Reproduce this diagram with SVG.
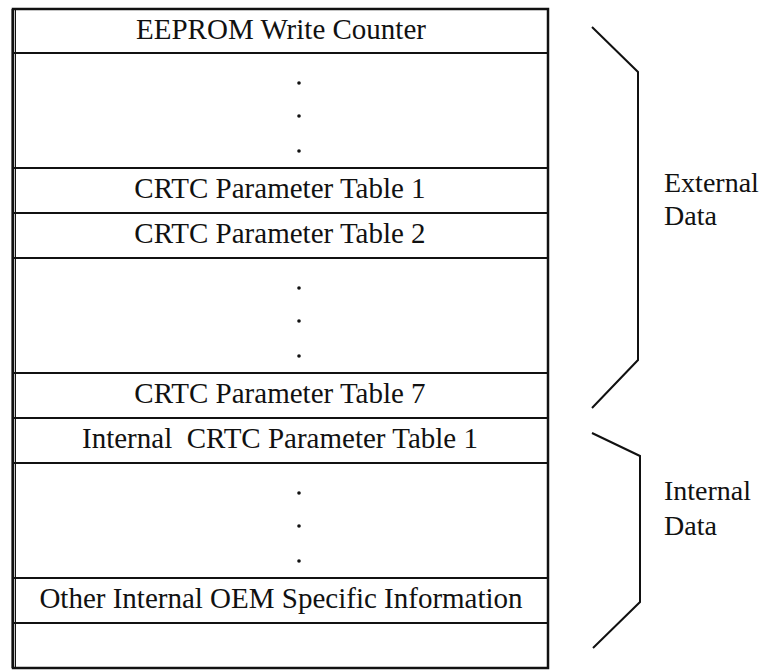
<svg xmlns="http://www.w3.org/2000/svg" width="767" height="670" viewBox="0 0 767 670">
<style>
.t{font-family:"Liberation Serif","Times New Roman","DejaVu Serif",serif;font-size:29px;fill:#111;text-anchor:middle}
.l{font-family:"Liberation Serif","Times New Roman","DejaVu Serif",serif;font-size:28px;fill:#111}
.ln{stroke:#111;stroke-width:1.8;fill:none}
.br{stroke:#111;stroke-width:2;fill:none;stroke-linejoin:miter}
</style>
<rect width="767" height="670" fill="#fff"/>
<g id="table">
<rect x="13" y="9" width="535" height="659" fill="none" stroke="#111" stroke-width="2.5"/>
<line x1="12" y1="9" x2="12" y2="668" stroke="#111" stroke-width="1"/>
<line x1="15.5" y1="9" x2="15.5" y2="668" stroke="#111" stroke-width="1"/>
<line class="ln" x1="13" y1="53" x2="548" y2="53"/>
<line class="ln" x1="13" y1="168" x2="548" y2="168"/>
<line class="ln" x1="13" y1="213" x2="548" y2="213"/>
<line class="ln" x1="13" y1="258" x2="548" y2="258"/>
<line class="ln" x1="13" y1="373" x2="548" y2="373"/>
<line class="ln" x1="13" y1="418" x2="548" y2="418"/>
<line class="ln" x1="13" y1="463" x2="548" y2="463"/>
<line class="ln" x1="13" y1="578" x2="548" y2="578"/>
<line class="ln" x1="13" y1="623" x2="548" y2="623"/>
</g>
<g id="row-eeprom"><text class="t" x="281" y="39">EEPROM Write Counter</text></g>
<g id="row-dots1" fill="#111"><circle cx="299" cy="83" r="1.8"/><circle cx="299" cy="116" r="1.8"/><circle cx="299" cy="151" r="1.8"/></g>
<g id="row-crtc1"><text class="t" x="280" y="198">CRTC Parameter Table 1</text></g>
<g id="row-crtc2"><text class="t" x="280" y="243">CRTC Parameter Table 2</text></g>
<g id="row-dots2" fill="#111"><circle cx="299" cy="288" r="1.8"/><circle cx="299" cy="321" r="1.8"/><circle cx="299" cy="356" r="1.8"/></g>
<g id="row-crtc7"><text class="t" x="280" y="403">CRTC Parameter Table 7</text></g>
<g id="row-internal1"><text class="t" x="280" y="448" xml:space="preserve">Internal  CRTC Parameter Table 1</text></g>
<g id="row-dots3" fill="#111"><circle cx="299" cy="493" r="1.8"/><circle cx="299" cy="526" r="1.8"/><circle cx="299" cy="561" r="1.8"/></g>
<g id="row-oem"><text class="t" x="281" y="608">Other Internal OEM Specific Information</text></g>
<g id="row-empty"></g>
<g id="connectors">
<polyline class="br" points="592,27 638,72 638,360 592,408"/>
<polyline class="br" points="592,433 640,456 640,602 593,648"/>
</g>
<g id="label-external"><text class="l" x="664" y="192">External</text><text class="l" x="664" y="225">Data</text></g>
<g id="label-internal"><text class="l" x="664" y="500">Internal</text><text class="l" x="664" y="535">Data</text></g>
</svg>
